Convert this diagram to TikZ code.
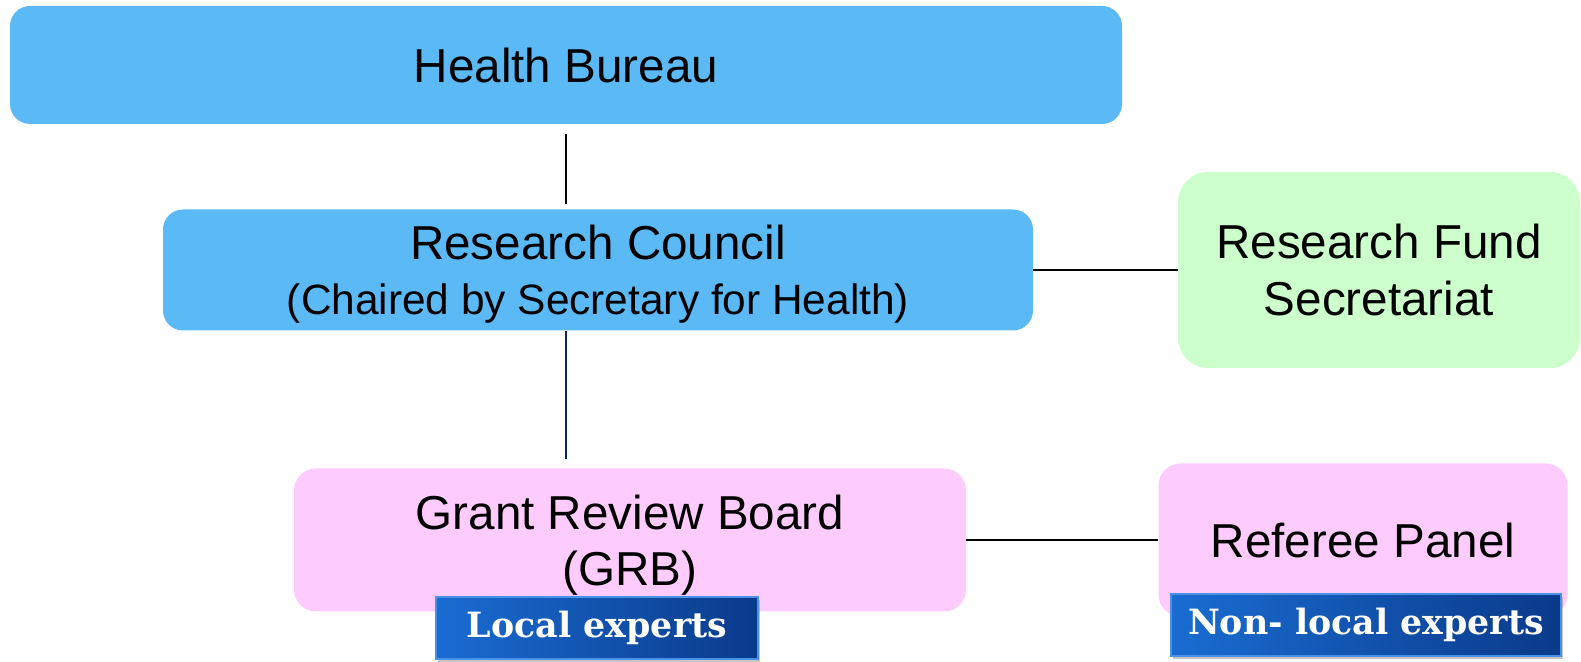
\documentclass[tikz,border=0pt]{standalone}
\usepackage{fontspec}
\newfontfamily\arialfont{Liberation Sans}
\newfontfamily\tagfont{DejaVu Serif}
\usetikzlibrary{positioning,shadows}
\definecolor{skyblue}{RGB}{91,185,246}
\definecolor{mintgreen}{RGB}{204,255,204}
\definecolor{lightpink}{RGB}{253,204,253}
\definecolor{royalblue}{RGB}{26,108,210}
\definecolor{navyblue}{RGB}{10,58,138}
\definecolor{edgeblue}{RGB}{72,145,230}
\definecolor{linenavy}{RGB}{16,32,100}
\tikzstyle{esskyblue}=[rectangle, rounded corners=10pt, fill=skyblue, inner sep=0pt, align=center, font=\arialfont\fontsize{23.8}{27.5}\selectfont]
\tikzstyle{esmint}=[rectangle, rounded corners=15pt, fill=mintgreen, inner sep=0pt, align=center, font=\arialfont\fontsize{23.8}{28.5}\selectfont]
\tikzstyle{espink}=[rectangle, rounded corners=11pt, fill=lightpink, inner sep=0pt, align=center, font=\arialfont\fontsize{23.8}{28}\selectfont]
\tikzstyle{tag}=[rectangle, left color=royalblue, right color=navyblue, draw=edgeblue, line width=1pt, inner sep=0pt, text=white, drop shadow={shadow xshift=1pt, shadow yshift=-1.5pt, opacity=0.45}, font=\tagfont\fontsize{17.4}{20}\selectfont\bfseries]

\begin{document}
\begin{tikzpicture}[x=0.5pt, y=-0.5pt, node distance=100pt]

\useasboundingbox (0,0) rectangle (1581,662);

\node[esskyblue, minimum width=556pt, minimum height=59pt](HealthBureau) at (566,65){Health Bureau};
\node[esskyblue, minimum width=435pt, minimum height=60.5pt, text depth=-2.5pt](ResearchCouncil)[below of = HealthBureau, xshift=16pt, yshift=-2.5pt]{Research Council\\{\fontsize{21.2}{27}\selectfont (Chaired by Secretary for Health)}};
\node[esmint, minimum width=201pt, minimum height=98pt, text depth=0pt](ResearchFund)[right of = ResearchCouncil, xshift=290.5pt]{Research Fund\\Secretariat};
\node[espink, minimum width=336pt, minimum height=71.5pt, text depth=-1pt](GrantReviewBoard)[below of = ResearchCouncil, xshift=16pt, yshift=-35pt]{Grant Review Board\\(GRB)};
\node[espink, minimum width=204.5pt, minimum height=76.5pt](RefereePanel)[right of = GrantReviewBoard, xshift=266.5pt]{Referee Panel};

\path[draw, thick, shorten <=5pt, shorten >=2.5pt] (HealthBureau.south) -- (HealthBureau.south |- ResearchCouncil.north);
\path[draw, thick, linenavy, shorten >=4.5pt] (HealthBureau.south |- ResearchCouncil.south) -- (HealthBureau.south |- GrantReviewBoard.north);
\path[draw, thick] (ResearchCouncil.east) -- (ResearchFund.west);
\path[draw, thick] (GrantReviewBoard.east) -- (RefereePanel.west);

\node[tag, minimum width=161pt, minimum height=31pt](LocalExperts)[below of = GrantReviewBoard, node distance=44pt, xshift=-16.5pt]{Local experts};
\node[tag, minimum width=195pt, minimum height=31pt](NonLocalExperts)[below of = RefereePanel, node distance=42.5pt, xshift=1.5pt]{Non- local experts};

\end{tikzpicture}
\end{document}
